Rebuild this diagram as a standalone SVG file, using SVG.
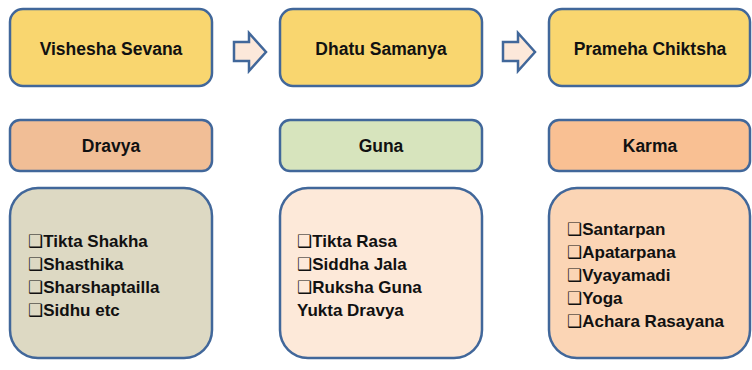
<svg xmlns="http://www.w3.org/2000/svg" width="752" height="370" viewBox="0 0 752 370">
<style>
.box{stroke:#41679A;stroke-width:2.5}
.t{font-family:"Liberation Sans","DejaVu Sans",Arial,sans-serif;font-weight:bold;font-size:17.5px;fill:#111}
.c{text-anchor:middle}
.l{font-size:17px}
.arr{fill:#FCE8DA;stroke:#41679A;stroke-width:2.5;stroke-linejoin:miter}
</style>
<rect width="752" height="370" fill="#fff"/>
<g id="vishesha-sevana">
<rect class="box" x="10" y="9" width="202" height="77" rx="13" fill="#F9D66F"/>
<text class="t c" x="111" y="55">Vishesha Sevana</text>
</g>
<g id="dhatu-samanya">
<rect class="box" x="280" y="9" width="202" height="77" rx="13" fill="#F9D66F"/>
<text class="t c" x="381" y="55">Dhatu Samanya</text>
</g>
<g id="prameha-chiktsha">
<rect class="box" x="549" y="9" width="201" height="77" rx="13" fill="#F9D66F"/>
<text class="t c" x="650" y="55">Prameha Chiktsha</text>
</g>
<g id="dravya">
<rect class="box" x="10" y="120" width="202" height="51" rx="10" fill="#F1BE96"/>
<text class="t c" x="111" y="152">Dravya</text>
</g>
<g id="guna">
<rect class="box" x="280" y="120" width="202" height="51" rx="10" fill="#D7E4BD"/>
<text class="t c" x="381" y="152">Guna</text>
</g>
<g id="karma">
<rect class="box" x="549" y="120" width="201" height="51" rx="10" fill="#F9C093"/>
<text class="t c" x="650" y="152">Karma</text>
</g>
<g id="dravya-list">
<rect class="box" x="10" y="188" width="202" height="170" rx="28" fill="#DDD9C3"/>
<text class="t l" x="28" y="247">❑Tikta Shakha</text>
<text class="t l" x="28" y="270">❑Shasthika</text>
<text class="t l" x="28" y="293">❑Sharshaptailla</text>
<text class="t l" x="28" y="316">❑Sidhu etc</text>
</g>
<g id="guna-list">
<rect class="box" x="280" y="188" width="202" height="170" rx="28" fill="#FDE9D9"/>
<text class="t l" x="297" y="247">❑Tikta Rasa</text>
<text class="t l" x="297" y="270">❑Siddha Jala</text>
<text class="t l" x="297" y="293">❑Ruksha Guna</text>
<text class="t l" x="297" y="316">Yukta Dravya</text>
</g>
<g id="karma-list">
<rect class="box" x="549" y="188" width="201" height="170" rx="28" fill="#FBD5B5"/>
<text class="t l" x="567" y="235">❑Santarpan</text>
<text class="t l" x="567" y="258">❑Apatarpana</text>
<text class="t l" x="567" y="281">❑Vyayamadi</text>
<text class="t l" x="567" y="304">❑Yoga</text>
<text class="t l" x="567" y="327">❑Achara Rasayana</text>
</g>
<g id="connectors">
<path class="arr" d="M234,42 H249 V33 L266,52 L249,71 V61 H234 Z"/>
<path class="arr" d="M503,42 H518 V33 L535,52 L518,71 V61 H503 Z"/>
</g>
</svg>
